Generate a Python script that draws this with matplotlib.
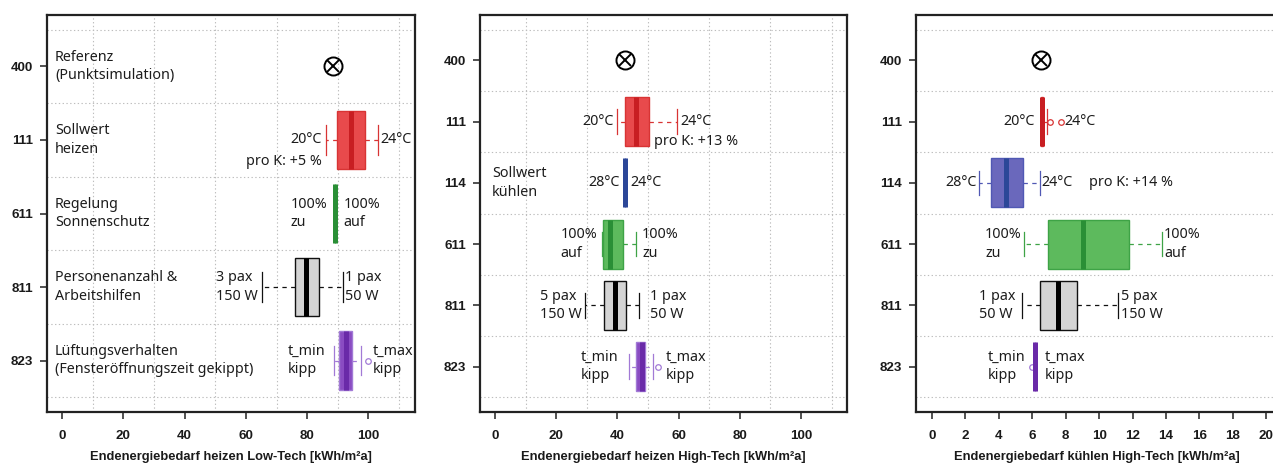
import numpy as np
import matplotlib.pyplot as plt
from matplotlib.ticker import MultipleLocator, FixedLocator
from matplotlib.transforms import blended_transform_factory

plt.rcParams['font.family'] = ['Noto Sans', 'DejaVu Sans']

W, H = 1273, 470
PX = 72.0 / 100  # Pixel -> Punkt bei dpi 100

# Varianten (von oben nach unten)
cat_lt = ['400', '111', '611', '811', '823']
cat_ht = ['400', '111', '114', '611', '811', '823']

# Punktsimulation (Referenz)
ref_heiz_lt = 88.5
ref_heiz_ht = 42.5
ref_kuehl_ht = 6.5

# Boxplot-Kennwerte [whislo, q1, med, q3, whishi] und Ausreisser
heiz_lt_111 = [86.0, 89.8, 94.2, 98.9, 103.2]
heiz_lt_611 = [89.0, 89.1, 89.1, 89.2, 89.2]
heiz_lt_811 = [65.4, 76.0, 79.6, 83.9, 91.8]
heiz_lt_823 = [88.9, 90.5, 92.8, 94.5, 97.6]
heiz_lt_823_out = [100.0]

heiz_ht_111 = [39.8, 42.5, 46.1, 50.3, 59.6]
heiz_ht_114 = [42.4, 42.5, 42.5, 42.6, 42.6]
heiz_ht_611 = [34.9, 35.2, 37.6, 41.7, 46.0]
heiz_ht_811 = [29.4, 35.6, 39.2, 42.8, 47.2]
heiz_ht_823 = [43.8, 46.1, 48.1, 49.0, 51.5]
heiz_ht_823_out = [53.4]

kuehl_ht_111 = [6.50, 6.52, 6.57, 6.62, 6.87]
kuehl_ht_111_out = [7.03, 7.72]
kuehl_ht_114 = [2.81, 3.53, 4.41, 5.47, 6.47]
kuehl_ht_611 = [5.53, 6.93, 9.02, 11.8, 13.75]
kuehl_ht_811 = [5.41, 6.47, 7.53, 8.66, 11.1]
kuehl_ht_823 = [6.15, 6.16, 6.17, 6.18, 6.19]
kuehl_ht_823_out = [5.98]

# Beschriftung links / rechts der Whisker
lbl_heiz_lt = {'111': ('20°C', '24°C'), '611': ('100%\nzu', '100%\nauf'),
               '811': ('3 pax\n150 W', '1 pax\n50 W'), '823': ('t_min\nkipp', 't_max\nkipp')}
lbl_heiz_ht = {'111': ('20°C', '24°C'), '114': ('28°C', '24°C'),
               '611': ('100%\nauf', '100%\nzu'), '811': ('5 pax\n150 W', '1 pax\n50 W'),
               '823': ('t_min\nkipp', 't_max\nkipp')}
lbl_kuehl_ht = {'111': ('20°C', '24°C'), '114': ('28°C', '24°C'),
                '611': ('100%\nzu', '100%\nauf'), '811': ('1 pax\n50 W', '5 pax\n150 W'),
                '823': ('t_min\nkipp', 't_max\nkipp')}

# Farben: (Fuellung, Rand, Median)
farben = {
    '111': ('#E84A4C', '#D83434', '#C81E22'),
    '114': ('#6A68BC', '#5058B4', '#2C4798'),
    '611': ('#5DBA5D', '#3EA346', '#2A8F36'),
    '811': ('#D4D4D4', '#111111', '#000000'),
    '823': ('#8A4CC2', '#A27AD6', '#6A2AA8'),
}
TXT = '#1c1c1c'
FS = 10.3
LS = 1.3


def panel(ax, cats, boxes, fliers, ref, labels, gaps, xlim, xstep, gstep, xlabel):
    n = len(cats)
    for i, c in enumerate(cats):
        if c == '400':
            ax.plot(ref, i, marker='o', ms=13, mfc='none', mec='k', mew=1.4, zorder=5)
            ax.plot(ref, i, marker='x', ms=9, mec='k', mew=1.4, zorder=5)
            continue
        lo, q1, med, q3, hi = boxes[c]
        out = fliers.get(c, [])
        fc, ec, mc = farben[c]
        st = dict(whislo=lo, q1=q1, med=med, q3=q3, whishi=hi, fliers=out)
        ax.bxp([st], positions=[i], widths=0.8, capwidths=0.4,
               orientation='horizontal', patch_artist=True, manage_ticks=False,
               boxprops=dict(facecolor=fc, edgecolor=ec, lw=1.0),
               medianprops=dict(color=mc, lw=3.6, solid_capstyle='butt'),
               whiskerprops=dict(color=ec, lw=0.9, linestyle=(0, (3.5, 3.5))),
               capprops=dict(color=ec, lw=0.9),
               flierprops=dict(marker='o', ms=4, mfc='none', mec=ec, mew=0.9),
               zorder=3)
        l_txt, r_txt = labels[c]
        gl, gr = gaps[c]
        xl = min([lo] + out)
        xr = max([hi] + out)
        ax.annotate(l_txt, (xl, i), xytext=(-gl * PX, 0), textcoords='offset points',
                    ha='right', va='center', multialignment='left',
                    fontsize=FS, color=TXT, linespacing=LS)
        ax.annotate(r_txt, (xr, i), xytext=(gr * PX, 0), textcoords='offset points',
                    ha='left', va='center', multialignment='left',
                    fontsize=FS, color=TXT, linespacing=LS)

    ax.set_xlim(*xlim)
    ax.set_ylim(n - 1 + 0.5 + 0.04 * n, -0.5 - 0.04 * n)
    ax.xaxis.set_major_locator(MultipleLocator(xstep))
    ax.xaxis.set_minor_locator(MultipleLocator(gstep))
    ax.set_yticks(range(n))
    ax.set_yticklabels(cats)
    ax.yaxis.set_minor_locator(FixedLocator(np.arange(n + 1) - 0.5))
    ax.grid(which='minor', color='#BDBDBD', lw=0.8, linestyle=(0, (1.2, 2.2)))
    ax.grid(which='major', visible=False)
    ax.set_axisbelow(True)
    ax.tick_params(which='minor', length=0)
    ax.tick_params(which='major', length=5, width=1.1, color='#222222', pad=8)
    ax.tick_params(axis='y', pad=5)
    for lab in ax.get_xticklabels() + ax.get_yticklabels():
        lab.set_family(['Liberation Sans', 'DejaVu Sans'])
        lab.set_fontweight('bold')
        lab.set_fontsize(9.6)
        lab.set_color('#1a1a1a')
    for s in ax.spines.values():
        s.set_linewidth(1.6)
        s.set_color('#222222')
    ax.set_xlabel(xlabel, fontsize=9.3, fontweight='bold', family=['Liberation Sans', 'DejaVu Sans'],
                  color='#1a1a1a')
    ax.xaxis.set_label_coords(0.5, -0.098)


fig = plt.figure(figsize=(W / 100, H / 100), dpi=100)
bot = 1 - 412 / H
hgt = 397 / H
ax1 = fig.add_axes([47 / W, bot, 368 / W, hgt])
ax2 = fig.add_axes([480 / W, bot, 367 / W, hgt])
ax3 = fig.add_axes([916 / W, bot, 367 / W, hgt])

# Niedrigtechnik, heizen
panel(ax1, cat_lt,
      {'111': heiz_lt_111, '611': heiz_lt_611, '811': heiz_lt_811, '823': heiz_lt_823},
      {'823': heiz_lt_823_out}, ref_heiz_lt, lbl_heiz_lt,
      {'111': (3.7, 1.7), '611': (7, 8), '811': (4.3, 1.7), '823': (9.5, 4.7)},
      (-4.9, 115.2), 20, 10, 'Endenergiebedarf heizen Low-Tech [kWh/m²a]')
tr1 = blended_transform_factory(ax1.transAxes, ax1.transData)
beschr_lt = ['Referenz\n(Punktsimulation)', 'Sollwert\nheizen', 'Regelung\nSonnenschutz',
             'Personenanzahl &\nArbeitshilfen', 'Lüftungsverhalten\n(Fensteröffnungszeit gekippt)']
for i, t in enumerate(beschr_lt):
    ax1.text(0.022, i, t, transform=tr1, ha='left', va='center', fontsize=FS,
             color=TXT, linespacing=LS)
ax1.annotate('pro K: +5 %', (heiz_lt_111[0], 1), xytext=(-3.6 * PX, -22 * PX),
             textcoords='offset points', ha='right', va='center', fontsize=FS, color=TXT)

# Hochtechnik, heizen
panel(ax2, cat_ht,
      {'111': heiz_ht_111, '114': heiz_ht_114, '611': heiz_ht_611,
       '811': heiz_ht_811, '823': heiz_ht_823},
      {'823': heiz_ht_823_out}, ref_heiz_ht, lbl_heiz_ht,
      {'111': (2.7, 2.7), '114': (5, 5), '611': (4.8, 6.3), '811': (3, 10.7), '823': (11, 7.7)},
      (-4.9, 115.0), 20, 10, 'Endenergiebedarf heizen High-Tech [kWh/m²a]')
tr2 = blended_transform_factory(ax2.transAxes, ax2.transData)
ax2.text(0.033, 2, 'Sollwert\nkühlen', transform=tr2, ha='left', va='center',
         fontsize=FS, color=TXT, linespacing=LS)
ax2.annotate('pro K: +13 %', (heiz_ht_111[3], 1), xytext=(5 * PX, -20 * PX),
             textcoords='offset points', ha='left', va='center', fontsize=FS, color=TXT)

# Hochtechnik, kuehlen
panel(ax3, cat_ht,
      {'111': kuehl_ht_111, '114': kuehl_ht_114, '611': kuehl_ht_611,
       '811': kuehl_ht_811, '823': kuehl_ht_823},
      {'111': kuehl_ht_111_out, '823': kuehl_ht_823_out}, ref_kuehl_ht, lbl_kuehl_ht,
      {'111': (5.6, 3.1), '114': (2.3, 1.7), '611': (2.6, 2.3), '811': (7.3, 3.4), '823': (6.9, 9.6)},
      (-0.96, 21.0), 2, 2, 'Endenergiebedarf kühlen High-Tech [kWh/m²a]')
ax3.annotate('pro K: +14 %', (kuehl_ht_114[4], 2), xytext=(49 * PX, 0),
             textcoords='offset points', ha='left', va='center', fontsize=FS, color=TXT)
# Achsbeschriftung mittig im sichtbaren Bereich
ax3.xaxis.set_label_coords((1097 - 916) / 367, -0.098)

fig.savefig('out.png', dpi=100)
